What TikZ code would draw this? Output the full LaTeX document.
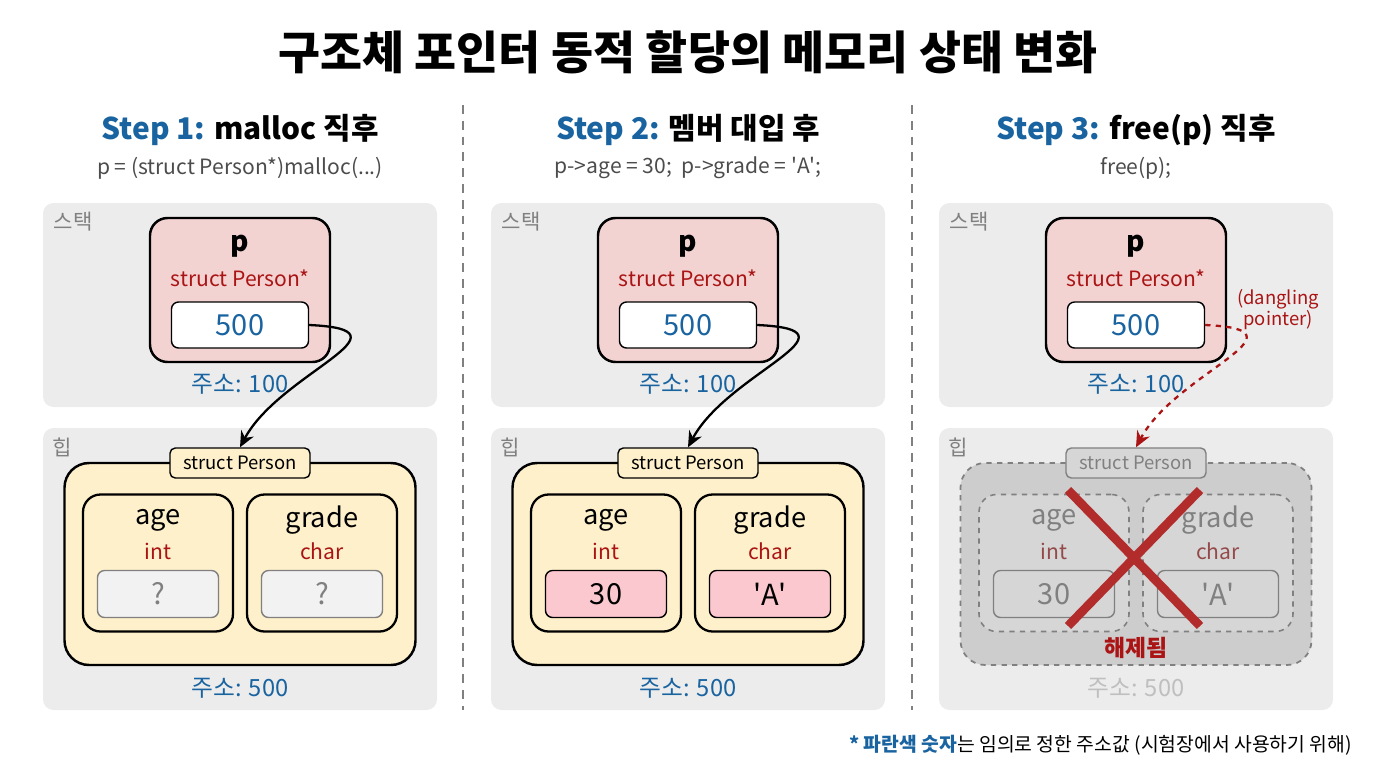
\documentclass[tikz,border=0pt]{standalone}
\usepackage{fontspec}
\setmainfont{Noto Sans CJK KR}
\usetikzlibrary{positioning,calc,arrows.meta}
\definecolor{panelgray}{RGB}{236,236,236}
\definecolor{ptrpink}{RGB}{243,210,210}
\definecolor{heapyel}{RGB}{253,240,202}
\definecolor{valpink}{RGB}{250,200,206}
\definecolor{addrblue}{RGB}{25,100,160}
\definecolor{typered}{RGB}{170,20,20}
\definecolor{freegray}{RGB}{205,205,205}
\definecolor{freein}{RGB}{214,214,214}

\begin{document}
\begin{tikzpicture}[x=0.02cm,y=-0.02cm,
    panel/.style={rectangle, fill=panelgray, rounded corners=6pt, minimum width=394*0.02cm},
    ptr/.style={rectangle, draw, line width=1.4pt, fill=ptrpink, rounded corners=10pt, minimum width=180*0.02cm, minimum height=144*0.02cm},
    valbox/.style={rectangle, draw, thick, fill=white, rounded corners=4pt, minimum width=137*0.02cm, minimum height=46*0.02cm, font=\fontsize{16.5}{18}\selectfont, text=addrblue},
    heap/.style={rectangle, draw, line width=1.4pt, fill=heapyel, rounded corners=14pt, minimum width=351*0.02cm, minimum height=202*0.02cm},
    field/.style={rectangle, draw, line width=1.3pt, rounded corners=10pt, minimum width=150*0.02cm, minimum height=137*0.02cm},
    cell/.style={rectangle, draw, thick, rounded corners=4pt, minimum width=121*0.02cm, minimum height=47*0.02cm, font=\fontsize{16.5}{18}\selectfont},
    tag/.style={rectangle, draw, thick, fill=heapyel, rounded corners=3pt, minimum width=140*0.02cm, minimum height=30*0.02cm, font=\fontsize{10.5}{12}\selectfont},
    addr/.style={font=\fontsize{13.5}{15}\selectfont, text=addrblue},
    area/.style={font=\fontsize{12}{14}\selectfont, text=gray},
    steptitle/.style={font=\fontsize{17}{19}\selectfont\bfseries},
    sub/.style={font=\fontsize{12}{14}\selectfont, text=black!70},
    fname/.style={font=\fontsize{15.5}{17}\selectfont},
    ftype/.style={font=\fontsize{12}{14}\selectfont, text=typered},
    link/.style={line width=1.3pt, -{Stealth[length=9pt,width=8pt]}}
]
\useasboundingbox (0,0) rectangle (1376,768);

% Title
\node[font=\fontsize{26}{30}\selectfont\bfseries] (title) at (688,52) {구조체 포인터 동적 할당의 메모리 상태 변화};

% Separators
\foreach \sx in {463,912}
  \draw[gray, thick, dash pattern=on 5pt off 4pt] (\sx,105) -- (\sx,710);

% ---------- Step 1 ----------
\node[steptitle] (t1) at (240,130) {\textcolor{addrblue}{Step 1:} malloc 직후};
\node[sub] (sub1) at (240,168) {p = (struct Person*)malloc(...)};
\node[panel, minimum height=204*0.02cm] (stk1) at (240,305) {};
\node[panel, minimum height=282*0.02cm] (hp1) at (240,569) {};
\node[area] at (73,222) {스택};
\node[area] at (62,447) {힙};
\node[ptr] (p1) at (240,290) {};
\node[fname, font=\fontsize{16}{17}\selectfont\bfseries] at (240,246) {p};
\node[ftype] at (240,278) {struct Person*};
\node[valbox] (v1) at (240,325) {500};
\node[addr] at (240,384) {주소: 100};
\node[heap] (s1) at (240,564) {};
\node[tag] (l1) at (240,463) {struct Person};
\node[field] (a1) at (158,563) {};
\node[field] (g1) at (322,563) {};
\node[fname] at (158,520) {age};
\node[ftype] at (158,551) {int};
\node[fname] at (322,520) {grade};
\node[ftype] at (322,551) {char};
\node[cell, fill=black!5, draw=gray, text=gray] (c1a) at (158,594) {?};
\node[cell, fill=black!5, draw=gray, text=gray] (c1g) at (322,594) {?};
\node[addr] at (240,688) {주소: 500};
\draw[link] (v1.east) .. controls +(110,5) and +(40,-75) .. (l1.north);

% ---------- Step 2 ----------
\node[steptitle] (t2) at (688,130) {\textcolor{addrblue}{Step 2:} 멤버 대입 후};
\node[sub] (sub2) at (688,168) {p->age = 30;\ \ p->grade = \textquotesingle A\textquotesingle;};
\node[panel, minimum height=204*0.02cm] (stk2) at (688,305) {};
\node[panel, minimum height=282*0.02cm] (hp2) at (688,569) {};
\node[area] at (521,222) {스택};
\node[area] at (510,447) {힙};
\node[ptr] (p2) at (688,290) {};
\node[fname, font=\fontsize{16}{17}\selectfont\bfseries] at (688,246) {p};
\node[ftype] at (688,278) {struct Person*};
\node[valbox] (v2) at (688,325) {500};
\node[addr] at (688,384) {주소: 100};
\node[heap] (s2) at (688,564) {};
\node[tag] (l2) at (688,463) {struct Person};
\node[field] (a2) at (606,563) {};
\node[field] (g2) at (770,563) {};
\node[fname] at (606,520) {age};
\node[ftype] at (606,551) {int};
\node[fname] at (770,520) {grade};
\node[ftype] at (770,551) {char};
\node[cell, fill=valpink] (c2a) at (606,594) {30};
\node[cell, fill=valpink] (c2g) at (770,594) {\textquotesingle A\textquotesingle};
\node[addr] at (688,688) {주소: 500};
\draw[link] (v2.east) .. controls +(110,5) and +(40,-75) .. (l2.north);

% ---------- Step 3 ----------
\node[steptitle] (t3) at (1136,130) {\textcolor{addrblue}{Step 3:} free(p) 직후};
\node[sub] (sub3) at (1136,168) {free(p);};
\node[panel, minimum height=204*0.02cm] (stk3) at (1136,305) {};
\node[panel, minimum height=282*0.02cm] (hp3) at (1136,569) {};
\node[area] at (969,222) {스택};
\node[area] at (958,447) {힙};
\node[ptr] (p3) at (1136,290) {};
\node[fname, font=\fontsize{16}{17}\selectfont\bfseries] at (1136,246) {p};
\node[ftype] at (1136,278) {struct Person*};
\node[valbox] (v3) at (1136,325) {500};
\node[addr] at (1136,384) {주소: 100};
\node[ftype, font=\fontsize{10.5}{12}\selectfont, align=center] (dang) at (1278,310) {(dangling\\pointer)};
\node[heap, draw=gray, fill=freegray, dashed, line width=1pt] (s3) at (1136,564) {};
\node[tag, draw=gray, fill=freein, text=gray] (l3) at (1136,463) {struct Person};
\node[field, draw=gray, fill=freein, dashed, line width=0.9pt] (a3) at (1054,563) {};
\node[field, draw=gray, fill=freein, dashed, line width=0.9pt] (g3) at (1218,563) {};
\node[fname, text=gray] at (1054,520) {age};
\node[ftype, text=typered!50!gray] at (1054,551) {int};
\node[fname, text=gray] at (1218,520) {grade};
\node[ftype, text=typered!50!gray] at (1218,551) {char};
\node[cell, fill=freein, draw=gray, text=gray] (c3a) at (1054,594) {30};
\node[cell, fill=freein, draw=gray, text=gray] (c3g) at (1218,594) {\textquotesingle A\textquotesingle};
\draw[typered!90, line width=5pt] (1068,490) -- (1200,626);
\draw[typered!90, line width=5pt] (1200,490) -- (1068,626);
\node[font=\fontsize{13}{15}\selectfont\bfseries, text=typered] (freed) at (1136,648) {해제됨};
\node[addr, text=black!25] at (1136,688) {주소: 500};
\draw[link, typered, dashed] (v3.east) .. controls +(110,5) and +(40,-75) .. (l3.north);

% Footnote
\node[anchor=east, font=\fontsize{11}{13}\selectfont] (note) at (1358,745) {\textcolor{addrblue}{\bfseries * 파란색 숫자}는 임의로 정한 주소값 (시험장에서 사용하기 위해)};

\end{tikzpicture}
\end{document}
